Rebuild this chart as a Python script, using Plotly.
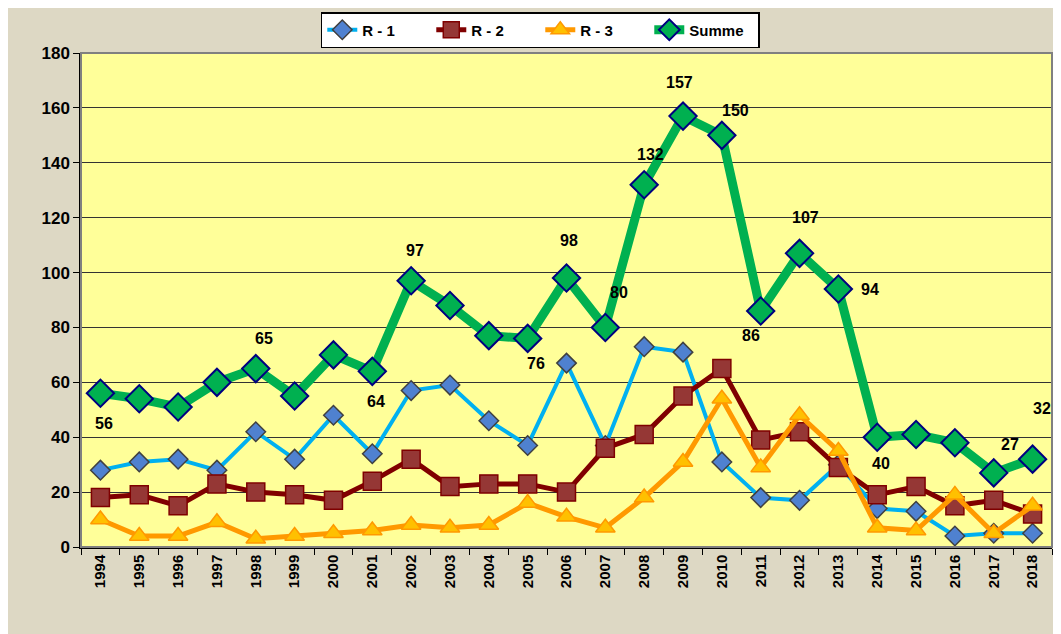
import plotly.graph_objects as go

years = [str(y) for y in range(1994, 2019)]
r1 = [28, 31, 32, 28, 42, 32, 48, 34, 57, 59, 46, 37, 67, 37, 73, 71, 31, 18, 17, 30, 14, 13, 4, 5, 5]
r2 = [18, 19, 15, 23, 20, 19, 17, 24, 32, 22, 23, 23, 20, 36, 41, 55, 65, 39, 42, 29, 19, 22, 15, 17, 12]
r3 = [10, 4, 4, 9, 3, 4, 5, 6, 8, 7, 8, 16, 11, 7, 18, 31, 54, 29, 48, 35, 7, 6, 19, 5, 15]
summe = [56, 54, 51, 60, 65, 55, 70, 64, 97, 88, 77, 76, 98, 80, 132, 157, 150, 86, 107, 94, 40, 41, 38, 27, 32]

# which Summe points carry a label, and label offset (pixels) for each
label_offsets = {
    "1994": (4, -30), "1998": (8, 30), "2001": (4, -30), "2002": (4, 30),
    "2005": (8, -25), "2006": (2, 38), "2007": (14, 35), "2008": (6, 30),
    "2009": (-4, 34), "2010": (14, 25), "2011": (-10, -25), "2012": (6, 36),
    "2013": (32, 0), "2014": (4, -26), "2017": (16, 28), "2018": (9, 51),
}

fig = go.Figure()
fig.add_trace(go.Scatter(
    x=years, y=r1, name="R - 1", mode="lines+markers",
    line=dict(color="#00B0F0", width=4),
    marker=dict(symbol="diamond", size=15, color="#4F81D0",
                line=dict(color="#404040", width=1.5)),
))
fig.add_trace(go.Scatter(
    x=years, y=r2, name="R - 2", mode="lines+markers",
    line=dict(color="#800000", width=5),
    marker=dict(symbol="square", size=18, color="#953735",
                line=dict(color="#7F0000", width=1.5)),
))
fig.add_trace(go.Scatter(
    x=years, y=r3, name="R - 3", mode="lines+markers",
    line=dict(color="#FF9900", width=5),
    marker=dict(symbol="triangle-up", size=17, color="#FFC000",
                line=dict(color="#FF9900", width=1.5)),
))
fig.add_trace(go.Scatter(
    x=years, y=summe, name="Summe", mode="lines+markers",
    line=dict(color="#00B050", width=9),
    marker=dict(symbol="diamond", size=21, color="#00B050",
                line=dict(color="#000080", width=2)),
))

for i, (yr, val) in enumerate(zip(years, summe)):
    if yr in label_offsets:
        dx, dy = label_offsets[yr]
        fig.add_annotation(x=i, y=val, text=str(val), showarrow=False,
                           xshift=dx, yshift=dy,
                           font=dict(family="Liberation Sans", size=16, color="black", weight="bold"))

fig.update_layout(
    width=1061, height=634,
    paper_bgcolor="#DDD8C4",
    plot_bgcolor="#FFFF99",
    margin=dict(l=73, r=17, t=45, b=95, autoexpand=False),
    font=dict(family="Liberation Sans", size=14, color="black", weight="bold"),
    showlegend=True,
    legend=dict(
        orientation="h", x=0.473, xanchor="center", y=1.01, yanchor="bottom",
        bgcolor="white", bordercolor="black", borderwidth=1.5,
        font=dict(family="Liberation Sans", size=15, color="black", weight="bold"),
        entrywidth=64, tracegroupgap=0,
    ),
)
fig.update_xaxes(
    type="category", range=[-0.5, len(years) - 0.5], tickangle=-90, tickson="boundaries",
    ticks="outside", ticklen=6, tickcolor="black",
    showline=True, linecolor="black", linewidth=1.5, mirror=False,
    showgrid=False,
    tickfont=dict(family="Liberation Sans", size=15, color="black", weight="bold"),
)
fig.update_yaxes(
    range=[0, 180], dtick=20, ticks="outside", ticklen=6, tickcolor="black",
    showline=True, linecolor="black", linewidth=1.5,
    showgrid=True, gridcolor="#333333", gridwidth=1, zeroline=False,
    tickfont=dict(family="Liberation Sans", size=17, color="black", weight="bold"),
)
# right / top plot border
fig.add_shape(type="rect", xref="paper", yref="paper", x0=0, y0=0, x1=1, y1=1,
              line=dict(color="#808080", width=2), layer="above")

fig.write_html("out.html")
